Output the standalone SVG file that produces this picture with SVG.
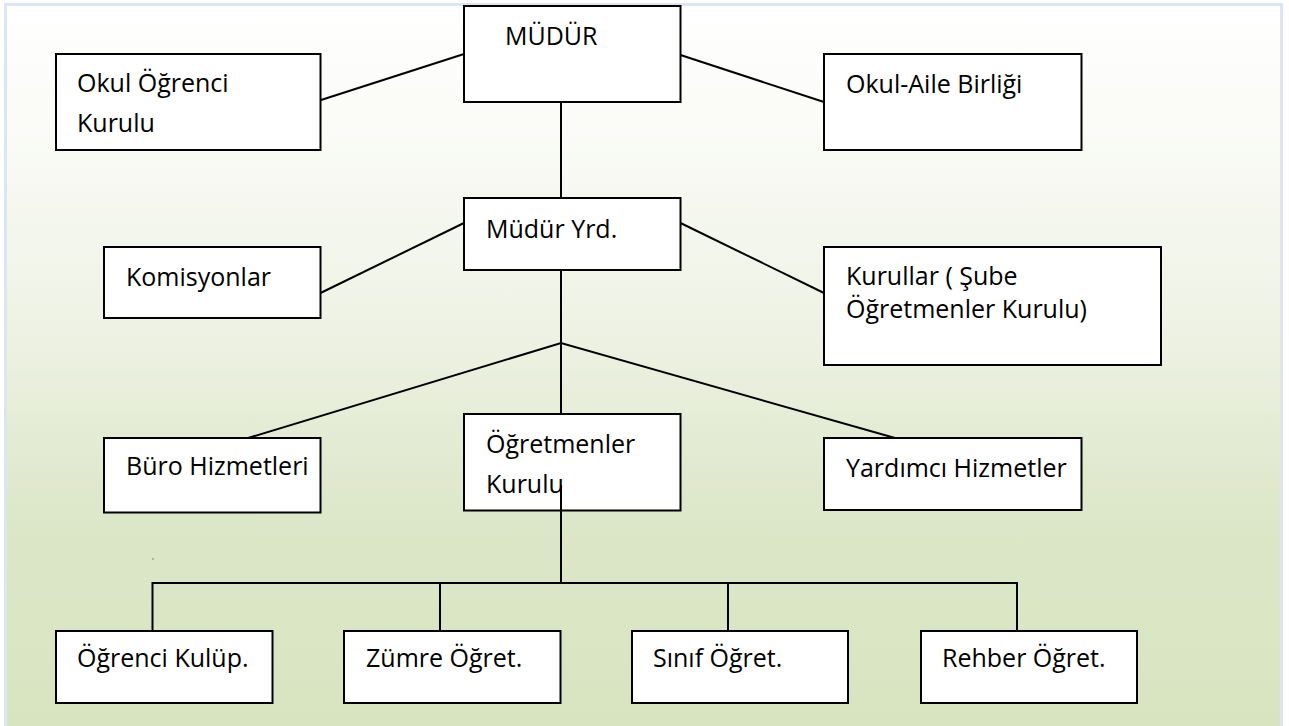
<svg xmlns="http://www.w3.org/2000/svg" width="1289" height="726" viewBox="0 0 1289 726">
<defs>
<linearGradient id="bg" x1="0" y1="0" x2="0" y2="1">
<stop offset="0" stop-color="#ffffff"/>
<stop offset="0.15" stop-color="#fbfcf8"/>
<stop offset="0.45" stop-color="#eef2e4"/>
<stop offset="0.7" stop-color="#dde7c9"/>
<stop offset="1" stop-color="#d8e4c0"/>
</linearGradient>
<style>
.box{fill:#ffffff;stroke:#000;stroke-width:2}
.lbl{font-family:"Open Sans","Noto Sans","DejaVu Sans",sans-serif;font-size:25px;fill:#000}
.ln{stroke:#000;stroke-width:2;fill:none}
</style>
</defs>
<rect x="0" y="0" width="1289" height="726" fill="#ffffff"/>
<rect x="5.5" y="4.5" width="1276" height="724" fill="url(#bg)" stroke="#dce6f2" stroke-width="3"/>

<g id="mudur"><rect class="box" x="464" y="6" width="216.5" height="96"/><text class="lbl" x="505" y="45">MÜDÜR</text></g>
<g id="okul-ogrenci-kurulu"><rect class="box" x="56" y="54" width="264.5" height="96"/><text class="lbl" x="77" y="92">Okul Öğrenci</text><text class="lbl" x="77" y="132">Kurulu</text></g>
<g id="okul-aile-birligi"><rect class="box" x="824" y="54" width="257.5" height="96"/><text class="lbl" x="846" y="93">Okul-Aile Birliği</text></g>
<g id="mudur-yrd"><rect class="box" x="464" y="198" width="216.5" height="72"/><text class="lbl" x="486" y="238">Müdür Yrd.</text></g>
<g id="komisyonlar"><rect class="box" x="104" y="247" width="216.5" height="71"/><text class="lbl" x="126" y="286">Komisyonlar</text></g>
<g id="kurullar"><rect class="box" x="824" y="247" width="337" height="118"/><text class="lbl" x="846" y="285">Kurullar ( Şube</text><text class="lbl" x="846" y="318">Öğretmenler Kurulu)</text></g>
<g id="buro-hizmetleri"><rect class="box" x="104" y="438" width="216.5" height="74.5"/><text class="lbl" x="126" y="475">Büro Hizmetleri</text></g>
<g id="ogretmenler-kurulu"><rect class="box" x="464" y="414" width="216.5" height="96.5"/><text class="lbl" x="486" y="453">Öğretmenler</text><text class="lbl" x="486" y="493">Kurulu</text></g>
<g id="yardimci-hizmetler"><rect class="box" x="824" y="438" width="257.5" height="72"/><text class="lbl" x="846" y="477">Yardımcı Hizmetler</text></g>
<g id="ogrenci-kulup"><rect class="box" x="56" y="631" width="216.5" height="72"/><text class="lbl" x="77" y="667">Öğrenci Kulüp.</text></g>
<g id="zumre-ogret"><rect class="box" x="344" y="631" width="216.5" height="72"/><text class="lbl" x="366" y="667">Zümre Öğret.</text></g>
<g id="sinif-ogret"><rect class="box" x="632" y="631" width="216" height="72"/><text class="lbl" x="653" y="667">Sınıf Öğret.</text></g>
<g id="rehber-ogret"><rect class="box" x="921" y="631" width="216" height="72"/><text class="lbl" x="942" y="667">Rehber Öğret.</text></g>

<g id="connectors" class="ln">
<line x1="321" y1="100" x2="464" y2="54"/>
<line x1="680.5" y1="55" x2="824" y2="102"/>
<line x1="561" y1="102" x2="561" y2="198"/>
<line x1="464" y1="223" x2="320.5" y2="293"/>
<line x1="680.5" y1="223" x2="824" y2="293"/>
<line x1="561" y1="270" x2="561" y2="414"/>
<polyline points="248,438 561,343 895,438"/>
<line x1="561" y1="485" x2="561" y2="583"/>
<polyline points="152.5,631 152.5,583 1017,583 1017,631"/>
<line x1="440" y1="583" x2="440" y2="631"/>
<line x1="728" y1="583" x2="728" y2="631"/>
</g>
<circle cx="153" cy="559" r="0.8" fill="#777"/>
</svg>
